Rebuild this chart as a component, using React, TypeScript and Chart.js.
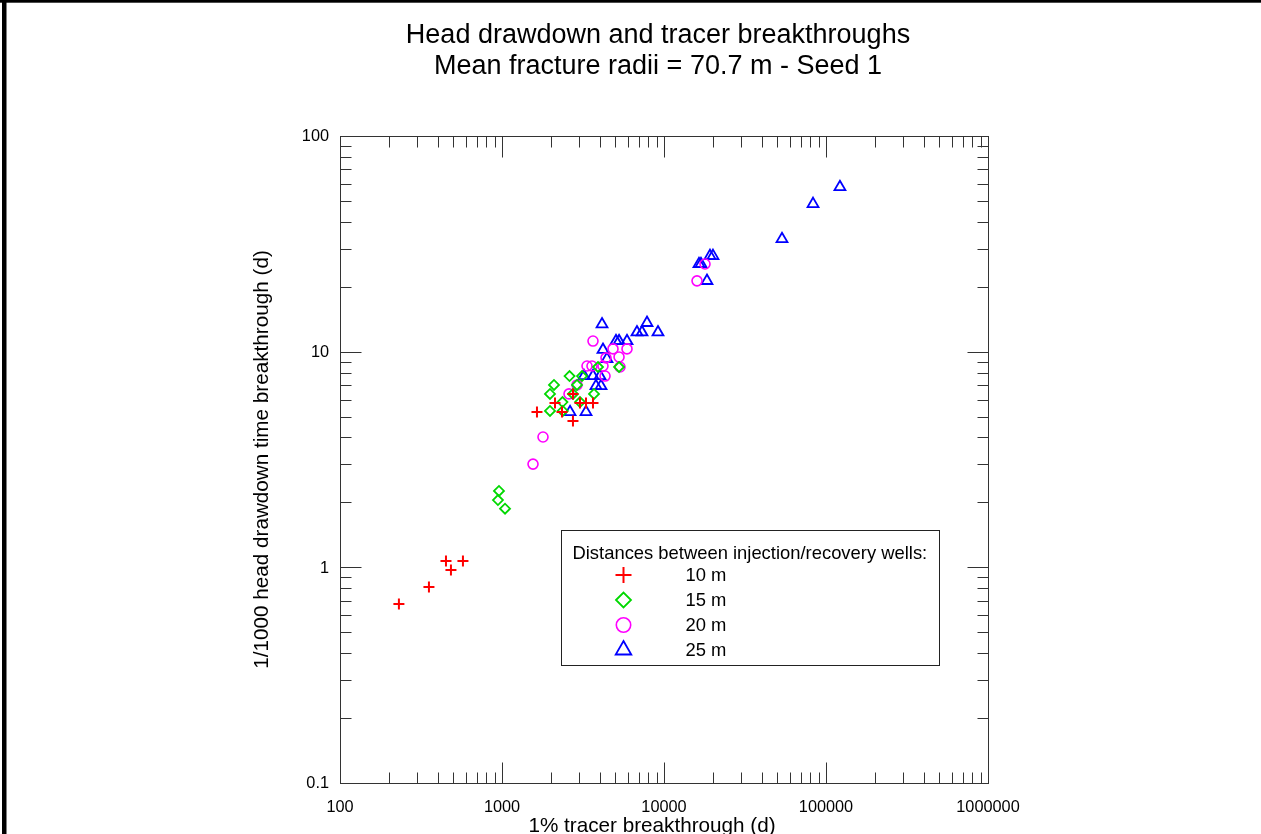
import React, { useEffect, useRef } from 'react';
import { Chart, registerables } from 'chart.js';
import { drawPoint } from 'chart.js/helpers';

Chart.register(...registerables);

// Breakthrough times per injection/recovery well spacing
// x: 1% tracer breakthrough (d), y: 1/1000 head drawdown time breakthrough (d)
const dist10X = [231, 354, 451, 484, 574, 1644, 2124, 2346, 2742, 2742, 3030, 3300, 3645];
const dist10Y = [0.676, 0.811, 1.07, 0.973, 1.07, 5.25, 5.78, 5.25, 4.77, 6.37, 5.78, 5.78, 5.78];

const dist15X = [958, 944, 1044, 1978, 2094, 2611, 2742, 2362, 3030, 1978, 2372, 3698, 3915, 5278, 3118, 2904];
const dist15Y = [2.26, 2.05, 1.87, 6.37, 7.01, 7.71, 6.37, 5.84, 5.84, 5.31, 5.31, 6.37, 8.49, 8.49, 7.71, 7.01];

const dist20X = [1554, 1791, 2592, 2904, 3348, 3593, 4201, 5350, 3645, 4844, 5910, 5278, 4385, 4325, 17910, 15990];
const dist20Y = [3.01, 4.02, 6.37, 7.01, 8.58, 8.58, 8.58, 8.49, 11.2, 10.3, 10.3, 9.45, 9.36, 7.71, 25.5, 21.3];

const dist25X = [121900, 83170, 53500, 20060, 19230, 16440, 16910, 18420, 7853, 9181, 7314, 6810, 4144, 5054, 5278, 5910, 4201, 4446, 3207, 3645, 4027, 3802, 4085, 2630, 3300];
const dist25Y = [58.0, 48.4, 33.3, 27.8, 27.8, 25.5, 25.5, 21.3, 13.6, 12.3, 12.3, 12.3, 13.4, 11.2, 11.2, 11.2, 10.2, 9.25, 7.71, 7.71, 7.71, 6.93, 6.93, 5.25, 5.25];

const seriesLabels = ['10 m', '15 m', '20 m', '25 m'];

const xTickValues = [100, 1000, 10000, 100000, 1000000];
const xTickLabels = ['100', '1000', '10000', '100000', '1000000'];
const yTickValues = [0.1, 1, 10, 100];
const yTickLabels = ['0.1', '1', '10', '100'];

const titleLines = ['Head drawdown and tracer breakthroughs', 'Mean fracture radii = 70.7 m - Seed 1'];
const xTitle = '1% tracer breakthrough (d)';
const yTitle = '1/1000 head drawdown time breakthrough (d)';
const legendTitle = 'Distances between injection/recovery wells:';

const FONT = '"Liberation Sans", Arial, Helvetica, sans-serif';

const toPoints = (xs: number[], ys: number[]) => xs.map((x, i) => ({ x, y: ys[i] }));

const markerStyles = [
  { color: '#FF0000', style: 'cross', radius: 5.5, width: 2, legendRadius: 8 },
  { color: '#00D800', style: 'rectRot', radius: 5, width: 1.8, legendRadius: 7.5 },
  { color: '#FF00FF', style: 'circle', radius: 5, width: 1.6, legendRadius: 7.2 },
  { color: '#0000FF', style: 'triangle', radius: 6.3, width: 1.8, legendRadius: 9 },
];

const framePlugin = {
  id: 'frame',
  beforeDatasetsDraw(chart: any) {
    const { ctx, chartArea: a, scales } = chart;
    const xs = scales.x;
    const ys = scales.y;
    ctx.save();

    // figure border (left and top edges)
    ctx.fillStyle = '#000';
    ctx.fillRect(2, 0, 4.5, chart.height);
    ctx.fillRect(0, 0, chart.width, 2.7);

    const L = Math.round(a.left) + 0.5;
    const R = Math.round(a.right) + 0.5;
    const T = Math.round(a.top) + 0.5;
    const B = Math.round(a.bottom) + 0.5;

    ctx.strokeStyle = '#333';
    ctx.lineWidth = 1;
    ctx.strokeRect(L, T, R - L, B - T);

    const majorLen = 21;
    const minorLen = 11;
    ctx.beginPath();
    // x ticks, bottom and top, pointing inward
    xTickValues.forEach((d, i) => {
      const vals: [number, number][] = [[d, majorLen]];
      if (i < xTickValues.length - 1) for (let k = 2; k <= 9; k++) vals.push([d * k, minorLen]);
      vals.forEach(([v, len]) => {
        const px = Math.round(xs.getPixelForValue(v)) + 0.5;
        ctx.moveTo(px, B);
        ctx.lineTo(px, B - len);
        ctx.moveTo(px, T);
        ctx.lineTo(px, T + len);
      });
    });
    // y ticks, left and right, pointing inward
    yTickValues.forEach((d, i) => {
      const vals: [number, number][] = [[d, majorLen]];
      if (i < yTickValues.length - 1) for (let k = 2; k <= 9; k++) vals.push([d * k, minorLen]);
      vals.forEach(([v, len]) => {
        const py = Math.round(ys.getPixelForValue(v)) + 0.5;
        ctx.moveTo(L, py);
        ctx.lineTo(L + len, py);
        ctx.moveTo(R, py);
        ctx.lineTo(R - len, py);
      });
    });
    ctx.stroke();

    // tick labels
    ctx.fillStyle = '#000';
    ctx.font = `16.3px ${FONT}`;
    ctx.textAlign = 'center';
    ctx.textBaseline = 'alphabetic';
    xTickValues.forEach((v, i) => {
      ctx.fillText(xTickLabels[i], xs.getPixelForValue(v), a.bottom + 28.5);
    });
    ctx.textAlign = 'right';
    ctx.textBaseline = 'middle';
    yTickValues.forEach((v, i) => {
      ctx.fillText(yTickLabels[i], a.left - 11, ys.getPixelForValue(v) + 1);
    });

    // chart title
    const cx = (a.left + a.right) / 2;
    ctx.textAlign = 'center';
    ctx.textBaseline = 'alphabetic';
    ctx.font = `27px ${FONT}`;
    ctx.fillText(titleLines[0], cx - 6, 43);
    ctx.fillText(titleLines[1], cx - 6, 74);

    // axis titles
    ctx.font = `20.7px ${FONT}`;
    ctx.fillText(xTitle, cx - 12, a.bottom + 49);
    ctx.save();
    ctx.translate(a.left - 78, (a.top + a.bottom) / 2);
    ctx.rotate(-Math.PI / 2);
    ctx.textBaseline = 'middle';
    ctx.fillText(yTitle, 0, 0);
    ctx.restore();

    ctx.restore();
  },
  afterDatasetsDraw(chart: any) {
    const { ctx, chartArea: a } = chart;
    ctx.save();
    const bx = Math.round(a.left + 221) + 0.5;
    const by = Math.round(a.top + 394) + 0.5;
    const bw = 378;
    const bh = 135;
    ctx.fillStyle = '#fff';
    ctx.fillRect(bx, by, bw, bh);
    ctx.strokeStyle = '#222';
    ctx.lineWidth = 1;
    ctx.strokeRect(bx, by, bw, bh);

    ctx.fillStyle = '#000';
    ctx.font = `18.4px ${FONT}`;
    ctx.textAlign = 'left';
    ctx.textBaseline = 'middle';
    ctx.fillText(legendTitle, bx + 11, by + 23);
    seriesLabels.forEach((label, i) => {
      const m = markerStyles[i];
      const ry = by + 44.5 + i * 25;
      ctx.strokeStyle = m.color;
      ctx.fillStyle = 'rgba(0,0,0,0)';
      ctx.lineWidth = m.width;
      drawPoint(ctx, { pointStyle: m.style as any, radius: m.legendRadius, rotation: 0, borderWidth: m.width }, bx + 62, ry);
      ctx.fillStyle = '#000';
      ctx.fillText(label, bx + 124, ry + 1);
    });
    ctx.restore();
  },
};

export default function App() {
  const canvasRef = useRef<HTMLCanvasElement>(null);

  useEffect(() => {
    document.body.style.margin = '0';
    const canvas = canvasRef.current;
    if (!canvas) return;
    const sets = [
      toPoints(dist10X, dist10Y),
      toPoints(dist15X, dist15Y),
      toPoints(dist20X, dist20Y),
      toPoints(dist25X, dist25Y),
    ];
    const chart = new Chart(canvas, {
      type: 'scatter',
      data: {
        datasets: sets.map((data, i) => ({
          label: seriesLabels[i],
          data,
          showLine: false,
          pointStyle: markerStyles[i].style as any,
          pointRadius: markerStyles[i].radius,
          pointHoverRadius: markerStyles[i].radius,
          pointBorderWidth: markerStyles[i].width,
          pointBorderColor: markerStyles[i].color,
          pointBackgroundColor: 'rgba(0,0,0,0)',
          borderColor: markerStyles[i].color,
          backgroundColor: 'rgba(0,0,0,0)',
        })),
      },
      options: {
        responsive: false,
        animation: false,
        devicePixelRatio: 1,
        layout: { padding: { left: 340, top: 136, right: 273, bottom: 51 } },
        scales: {
          x: { type: 'logarithmic', min: 100, max: 1000000, display: false },
          y: { type: 'logarithmic', min: 0.1, max: 100, display: false },
        },
        plugins: {
          legend: { display: false },
          title: { display: false },
          tooltip: { enabled: false },
        },
        events: [],
      },
      plugins: [framePlugin],
    });
    return () => chart.destroy();
  }, []);

  return (
    <div style={{ position: 'fixed', left: 0, top: 0, width: 1261, height: 834, background: '#fff' }}>
      <canvas ref={canvasRef} width={1261} height={834} style={{ display: 'block' }} />
    </div>
  );
}
